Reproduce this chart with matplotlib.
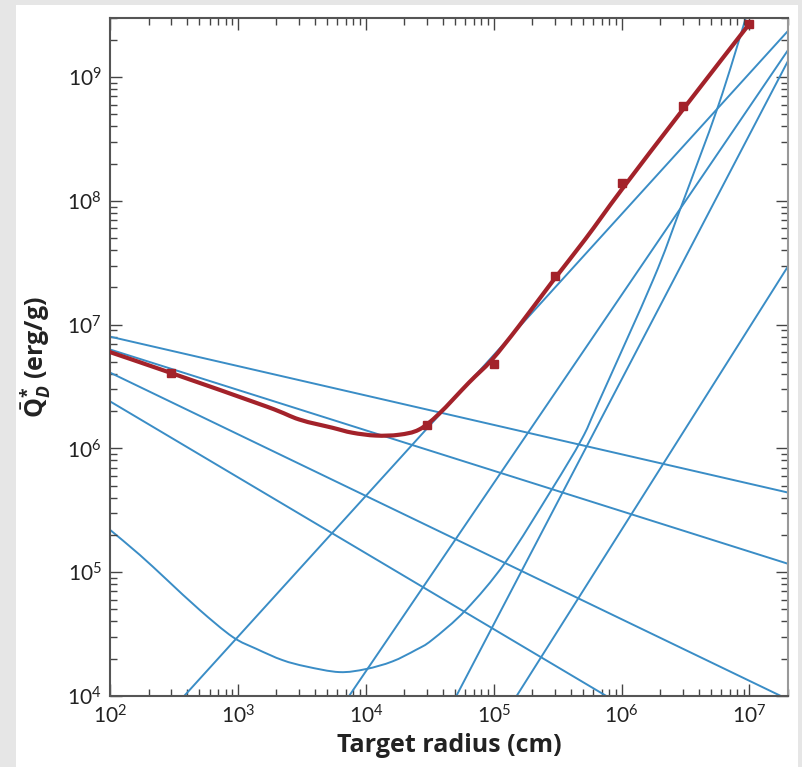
import numpy as np
import matplotlib
matplotlib.use('Agg')
import matplotlib.pyplot as plt
from matplotlib.patches import Rectangle, PathPatch
from matplotlib.path import Path
from matplotlib.ticker import LogLocator, NullFormatter

# 폰트 설정
plt.rcParams['font.family'] = ['Lato', 'DejaVu Sans']
plt.rcParams['mathtext.fontset'] = 'custom'
plt.rcParams['mathtext.rm'] = 'Open Sans'
plt.rcParams['mathtext.bf'] = 'Open Sans:bold'
plt.rcParams['mathtext.it'] = 'Open Sans:bold:italic'

# 직선 (log-log 에서 직선) : 양 끝점 (radius cm, Q erg/g)
line_a_x = [1e2, 2e7]
line_a_y = [8.0e6, 4.4e5]
line_b_x = [1e2, 2e7]
line_b_y = [6.3e6, 1.17e5]
line_c_x = [1e2, 1.76e7]
line_c_y = [4.1e6, 1e4]
line_d_x = [1e2, 7.6e5]
line_d_y = [2.4e6, 1e4]
line_e_x = [3.8e2, 2e7]
line_e_y = [1e4, 2.36e9]
line_f_x = [7.4e3, 2e7]
line_f_y = [1e4, 1.65e9]
line_g_x = [5.1e4, 2e7]
line_g_y = [1e4, 1.35e9]
line_h_x = [1.51e5, 2e7]
line_h_y = [1e4, 2.96e7]

# U 모양 곡선
curve_x = [100, 171, 278, 502, 910, 1400, 2230, 3430, 6210, 1.0e4, 1.61e4, 2.47e4, 3.30e4,
           6.07e4, 1.24e5, 2.84e5, 4.86e5, 6.6e5, 1.77e6, 2.87e6, 5.68e6, 9.4e6]
curve_y = [2.2e5, 1.38e5, 8.7e4, 4.96e4, 3.0e4, 2.4e4, 1.95e4, 1.73e4, 1.56e4, 1.65e4, 1.90e4, 2.36e4, 2.84e4,
           4.97e4, 1.21e5, 4.65e5, 1.18e6, 2.35e6, 2.32e7, 8.55e7, 5.8e8, 3.05e9]

# 빨간 곡선 (fit) 과 데이터 점
red_x = [100, 294, 1675, 3030, 5470, 7830, 1.2e4, 1.82e4, 2.61e4, 3.73e4,
         6.4e4, 9.67e4, 1.57e5, 2.84e5, 5.2e5, 1e6, 3e6, 1e7]
red_y = [6.0e6, 4.1e6, 2.18e6, 1.71e6, 1.47e6, 1.34e6, 1.27e6, 1.29e6, 1.42e6, 1.9e6,
         3.4e6, 5.2e6, 9.7e6, 2.19e7, 4.9e7, 1.23e8, 5.43e8, 2.7e9]
pts_x = [300, 3e4, 1e5, 3e5, 1e6, 3e6, 1e7]
pts_y = [4.1e6, 1.56e6, 4.85e6, 2.45e7, 1.4e8, 5.8e8, 2.7e9]

blue = '#3a8dc6'
red = '#a3222a'


def smooth_path(xs, ys):
    # 읽은 점들을 지나는 부드러운 베지어 경로 (log 공간 기준)
    p = np.column_stack([np.log10(xs), np.log10(ys)])
    n = len(p)
    verts = [p[0]]
    codes = [Path.MOVETO]
    for i in range(n - 1):
        a = p[i - 1] if i > 0 else p[i]
        d = p[i + 2] if i + 2 < n else p[i + 1]
        verts += [p[i] + (p[i + 1] - a) / 6, p[i + 1] - (d - p[i]) / 6, p[i + 1]]
        codes += [Path.CURVE4] * 3
    return Path(10 ** np.array(verts), codes)


fig = plt.figure(figsize=(8.03, 7.67), dpi=100, facecolor='#e6e6e6')
fig.patches.append(Rectangle((16 / 803, 0), 782 / 803, 1 - 5 / 767, transform=fig.transFigure,
                             facecolor='white', edgecolor='none', zorder=-10))
ax = fig.add_axes([110 / 803, 1 - 696 / 767, 678 / 803, 678 / 767])
ax.set_xscale('log')
ax.set_yscale('log')

for lx, ly in [(line_a_x, line_a_y), (line_b_x, line_b_y), (line_c_x, line_c_y), (line_d_x, line_d_y),
               (line_e_x, line_e_y), (line_f_x, line_f_y), (line_g_x, line_g_y), (line_h_x, line_h_y)]:
    ax.plot(lx, ly, color=blue, lw=1.4, solid_capstyle='butt')

ax.add_patch(PathPatch(smooth_path(curve_x, curve_y), facecolor='none', edgecolor=blue, lw=1.4))
ax.add_patch(PathPatch(smooth_path(red_x, red_y), facecolor='none', edgecolor=red, lw=3.0,
                       capstyle='round', zorder=5))
ax.plot(pts_x, pts_y, 's', color=red, ms=6, zorder=6)

ax.set_xlim(1e2, 2e7)
ax.set_ylim(1e4, 3e9)

ax.xaxis.set_major_locator(LogLocator(base=10, numticks=20))
ax.yaxis.set_major_locator(LogLocator(base=10, numticks=20))
ax.xaxis.set_minor_locator(LogLocator(base=10, subs=range(2, 10), numticks=50))
ax.yaxis.set_minor_locator(LogLocator(base=10, subs=range(2, 10), numticks=50))
ax.xaxis.set_minor_formatter(NullFormatter())
ax.yaxis.set_minor_formatter(NullFormatter())

ax.tick_params(which='both', direction='in', top=True, right=True, colors='#444444',
               labelcolor='#222222', labelsize=15)
ax.tick_params(which='major', length=8.5, width=1.0, pad=6)
ax.tick_params(which='minor', length=4.7, width=1.0)
for side in ['left', 'bottom', 'top']:
    ax.spines[side].set_color('#555555')
    ax.spines[side].set_linewidth(1.5)
ax.spines['right'].set_color('#999999')
ax.spines['right'].set_linewidth(1.5)

ax.set_xlabel('Target radius (cm)', fontsize=18, fontweight='bold', color='#222222', family='Open Sans')
ax.set_ylabel(r'$\bar{\mathbf{Q}}^{\mathbf{*}}_{D}$ (erg/g)', fontsize=18, fontweight='bold',
              color='#222222', family='Open Sans')
ax.xaxis.set_label_coords(0.5, -0.054)
ax.yaxis.set_label_coords(-0.082, 0.5)

fig.savefig('out.png', dpi=100, facecolor=fig.get_facecolor())
